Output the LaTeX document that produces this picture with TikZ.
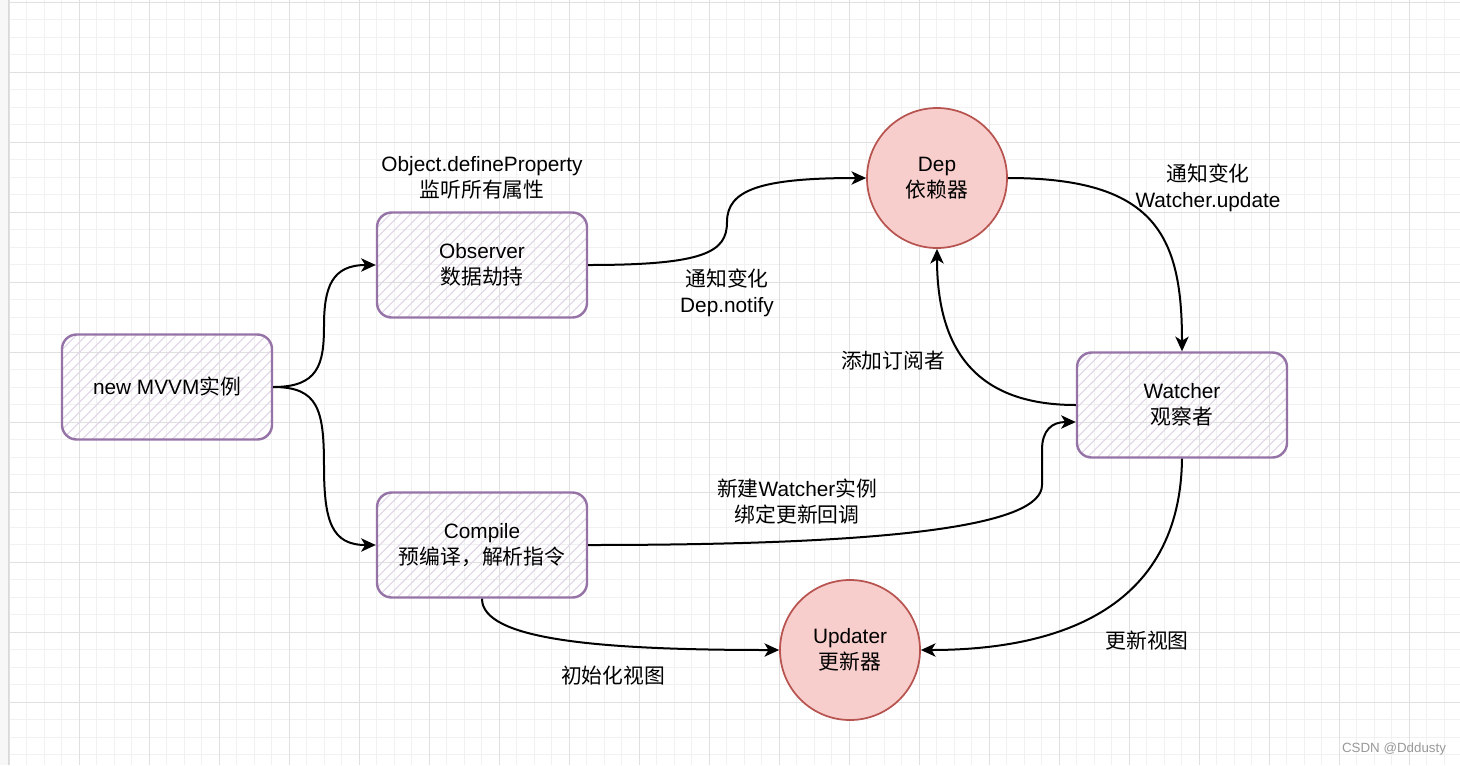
\documentclass[tikz,border=0pt]{standalone}
\usepackage{fontspec}
\setmainfont{Liberation Sans}
\newfontfamily\cjkfont{Noto Sans CJK SC}
\newcommand\zh[1]{{\cjkfont #1}}
\usetikzlibrary{arrows.meta,calc}

\definecolor{boxline}{HTML}{9673A6}
\definecolor{hatchc}{HTML}{E1D5E7}
\definecolor{circfill}{HTML}{F8CECC}
\definecolor{circline}{HTML}{B85450}
\definecolor{gmaj}{HTML}{E0E0E0}
\definecolor{gmin}{HTML}{F1F1F1}
\definecolor{wmark}{HTML}{999999}

\begin{document}
\begin{tikzpicture}[x=0.75pt,y=-0.75pt,
  txt/.style={font=\fontsize{15.6}{19.5}\selectfont, align=center, text=black, inner sep=0pt},
  hbox/.style={txt, draw=boxline, line width=1.8pt, rounded corners=11pt,
    minimum width=157.5pt, minimum height=78.75pt,
    path picture={\foreach \k in {-11,...,21}{\draw[hatchc, line width=0.8pt]
      ([xshift=\k*7.5pt]path picture bounding box.south west) -- ++(90pt,90pt);}}},
  circ/.style={txt, circle, draw=circline, fill=circfill, line width=1.3pt, minimum size=105pt},
  conn/.style={draw=black, line width=1.5pt, -{Stealth[length=11pt,width=10pt,inset=3pt]}},
  lbl/.style={txt}
]
\useasboundingbox (0,0) rectangle (1460,765);
\begin{scope}
\clip (0,0) rectangle (1460,765);
\fill[white] (0,0) rectangle (1460,765);
\foreach \i in {0,...,83} \draw[gmin, line width=0.75pt] ({9.3+17.5*\i},0) -- ({9.3+17.5*\i},765);
\foreach \j in {0,...,43} \draw[gmin, line width=0.75pt] (8,{2.3+17.5*\j}) -- (1460,{2.3+17.5*\j});
\foreach \i in {0,...,20} \draw[gmaj, line width=0.75pt] ({9.3+70*\i},0) -- ({9.3+70*\i},765);
\foreach \j in {0,...,10} \draw[gmaj, line width=0.75pt] (8,{2.3+70*\j}) -- (1460,{2.3+70*\j});
\fill[gray!6] (0,0) rectangle (8,765);
\draw[gray!30, line width=0.75pt] (8,0) -- (8,765);
\end{scope}

\node[hbox] (mvvm) at (167,387) {new MVVM\zh{实例}};
\node[hbox] (obs) at (482,265) {Observer\\\zh{数据劫持}};
\node[hbox] (comp) at (482,545) {Compile\\\zh{预编译，解析指令}};
\node[hbox] (wat) at (1182,405) {Watcher\\\zh{观察者}};
\node[circ] (dep) at (937,178) {Dep\\\zh{依赖器}};
\node[circ] (upd) at (850,650) {Updater\\\zh{更新器}};

\draw[conn] (mvvm.east) .. controls (318,387) and (324,365) .. (324,326) .. controls (324,287) and (332,265) .. (obs.west);
\draw[conn] (mvvm.east) .. controls (318,387) and (324,409) .. (324,466) .. controls (324,522) and (332,545) .. (comp.west);
\draw[conn] (obs.east) .. controls (705,265) and (727,252) .. (727,222) .. controls (727,190) and (760,178) .. (dep.west);
\draw[conn] (dep.east) .. controls (1155,178) and (1182,235) .. (wat.north);
\draw[conn] (wat.west) .. controls (978,405) and (937,352) .. (dep.south);
\draw[conn] (comp.east) .. controls (900,545) and (1042,525) .. (1042,485) -- (1042,450) .. controls (1042,430) and (1052,422) .. ($(wat.west)+(0,17)$);
\draw[conn] (comp.south) .. controls (482,640) and (600,650) .. (upd.west);
\draw[conn] (wat.south) .. controls (1180,620) and (1040,650) .. (upd.east);

\node[lbl] (l1) at (482,178) {Object.defineProperty\\\zh{监听所有属性}};
\node[lbl] (l2) at (727,293) {\zh{通知变化}\\Dep.notify};
\node[lbl] (l3) at (1208,188) {\zh{通知变化}\\Watcher.update};
\node[lbl] (l4) at (893,361) {\zh{添加订阅者}};
\node[lbl] (l5) at (797,502) {\zh{新建}Watcher\zh{实例}\\\zh{绑定更新回调}};
\node[lbl] (l6) at (613,676) {\zh{初始化视图}};
\node[lbl] (l7) at (1147,641) {\zh{更新视图}};
\node[font=\fontsize{10}{12}\selectfont, text=wmark, inner sep=0pt] (wm) at (1394,749) {CSDN @Dddusty};
\end{tikzpicture}
\end{document}
